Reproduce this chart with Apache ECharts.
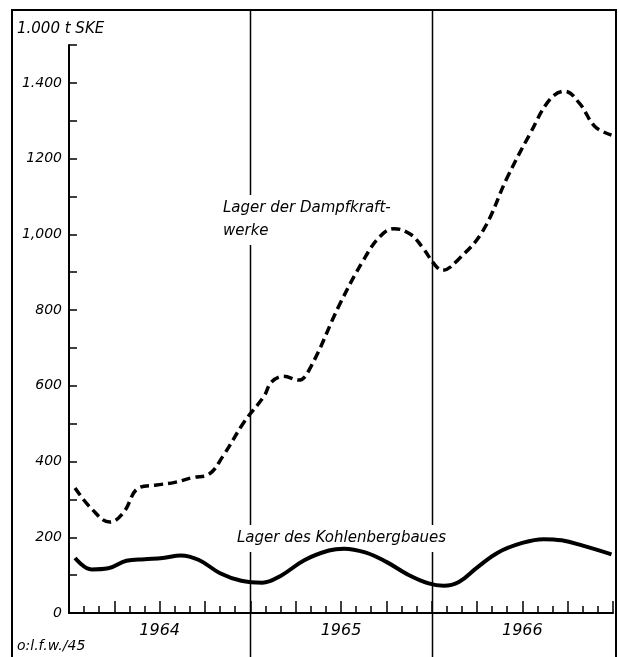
<!DOCTYPE html>
<html>
<head>
<meta charset="utf-8">
<title>Lager</title>
<script src="https://cdn.jsdelivr.net/npm/echarts@6/dist/echarts.min.js"></script>
<style>
  html, body { margin: 0; padding: 0; background: #fff; }
  #main { width: 619px; height: 657px; }
</style>
</head>
<body>
<div id="main"></div>
<script>
// months counted from Jan 1964 (0) to end of 1966 (36)
const dampfMonths = [0.4, 1.5, 2.7, 3.6, 4.6, 5.8, 7.0, 8.2, 9.2, 10.2, 11.6, 12.9, 13.4, 14.2, 15.2, 16.0, 17.9, 19.5, 20.6, 21.5, 22.6, 23.4, 24.2, 24.7, 25.8, 27.4, 29.0, 30.5, 31.8, 32.8, 33.8, 34.8, 35.9];
const dampfValues = [330, 275, 240, 265, 330, 338, 345, 358, 365, 415, 505, 572, 610, 625, 615, 650, 814, 933, 995, 1015, 1000, 965, 920, 905, 935, 1010, 1150, 1265, 1355, 1378, 1345, 1285, 1262];

const kohleMonths = [0.4, 1.5, 2.6, 3.8, 5.0, 6.2, 7.4, 8.6, 10.0, 11.4, 12.8, 14.0, 15.6, 17.2, 18.2, 19.6, 21.0, 22.4, 23.8, 24.8, 25.8, 27.0, 28.4, 30.0, 31.4, 32.6, 34.0, 35.9];
const kohleValues = [145, 115, 118, 138, 142, 145, 152, 140, 105, 85, 80, 98, 140, 165, 170, 160, 135, 102, 78, 72, 82, 120, 160, 185, 195, 192, 178, 155];

const yearLabels = { 6: '1964', 18: '1965', 30: '1966' };
const yearBreaks = [12, 24];
const yTickLabels = { 0: '0', 200: '200', 400: '400', 600: '600', 800: '800', 1000: '1,000', 1200: '1200', 1400: '1.400' };

const FONT = 'DejaVu Sans';
const chart = echarts.init(document.getElementById('main'));

chart.setOption({
  animation: false,
  backgroundColor: '#fff',
  grid: { left: 69, right: 6, top: 45, bottom: 44 },
  xAxis: [
    {
      type: 'value', min: 0, max: 36, interval: 1,
      axisLine: { lineStyle: { color: '#000', width: 2 } },
      axisTick: { inside: true, length: 7, lineStyle: { color: '#000', width: 1.5 } },
      axisLabel: {
        margin: 10, color: '#000', fontSize: 16, fontStyle: 'italic', fontFamily: FONT,
        formatter: v => yearLabels[v] || ''
      },
      splitLine: { show: false }
    },
    {
      // longer ticks at the quarters
      type: 'value', min: 0, max: 36, interval: 3, position: 'bottom',
      axisLine: { show: false },
      axisTick: { inside: true, length: 12, lineStyle: { color: '#000', width: 1.5 } },
      axisLabel: { show: false },
      splitLine: { show: false }
    }
  ],
  yAxis: {
    type: 'value', min: 0, max: 1500, interval: 100,
    axisLine: { show: true, lineStyle: { color: '#000', width: 2 } },
    axisTick: { show: true, inside: true, length: 8, lineStyle: { color: '#000', width: 1.5 } },
    axisLabel: {
      margin: 7, color: '#000', fontSize: 14, fontStyle: 'italic', fontFamily: FONT,
      formatter: v => yTickLabels[v] || ''
    },
    splitLine: { show: false }
  },
  series: [
    {
      name: 'Lager der Dampfkraftwerke',
      type: 'line', smooth: 0.4, showSymbol: false,
      data: dampfMonths.map((m, i) => [m, dampfValues[i]]),
      lineStyle: { color: '#000', width: 3.5, type: [9, 5] },
      z: 10
    },
    {
      name: 'Lager des Kohlenbergbaues',
      type: 'line', smooth: 0.4, showSymbol: false,
      data: kohleMonths.map((m, i) => [m, kohleValues[i]]),
      lineStyle: { color: '#000', width: 4 },
      z: 10
    }
  ]
});

// year separators run over the full frame, so they are drawn as graphics
const breakLines = yearBreaks.map(m => {
  const x = Math.round(chart.convertToPixel({ xAxisIndex: 0 }, m)) + 0.5;
  return { type: 'line', z: 1, shape: { x1: x, y1: 10, x2: x, y2: 657 }, style: { stroke: '#000', lineWidth: 1.5 } };
});

const textStyle = (t, x, y, size) => ({
  type: 'text', z: 3, x: x, y: y,
  style: {
    text: t, fill: '#000', font: 'italic ' + size + 'px "' + FONT + '"',
    backgroundColor: '#fff', padding: [2, 3], lineHeight: size + 8
  }
});

chart.setOption({
  graphic: [
    { type: 'polyline', z: 2, shape: { points: [[12, 657], [12, 10], [616, 10], [616, 657]] }, style: { stroke: '#000', lineWidth: 2, fill: null } },
    ...breakLines,
    textStyle('1.000 t SKE', 14, 16, 15),
    textStyle('Lager der Dampfkraft-\nwerke', 220, 195, 15),
    textStyle('Lager des Kohlenbergbaues', 234, 525, 15),
    textStyle('o:l.f.w./45', 14, 633, 14)
  ]
});
</script>
</body>
</html>
